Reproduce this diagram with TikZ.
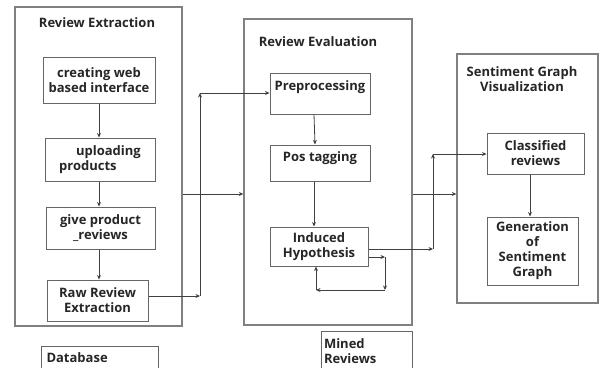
\documentclass[tikz,border=0pt]{standalone}
\usepackage{fontspec}
\setmainfont{Open Sans}
\usetikzlibrary{positioning}
\usetikzlibrary{arrows.meta}

\tikzset{
    frame/.style={draw=black!50, line width=1.3pt, fill=white},
    box/.style={draw=black!60, line width=1pt, fill=white, align=center, inner sep=1pt},
    arr/.style={-{Stealth[length=4.5pt,width=4pt]}, draw=black!75, line width=0.8pt},
    lbl/.style={font=\bfseries\fontsize{13}{15}\selectfont, text=black!85, align=center}
}

\begin{document}
\begin{tikzpicture}[x=1pt, y=-1pt, every node/.style={lbl}]
\useasboundingbox (0,0) rectangle (601,367);

% Frames
\node[frame, minimum width=167pt, minimum height=319pt] (extract) at (98.5,166.5) {};
\node[frame, minimum width=168pt, minimum height=306pt] (eval) at (328,172) {};
\node[frame, minimum width=141pt, minimum height=249pt] (visual) at (527.5,178.5) {};

% Frame titles
\node (extractT) at (97,23) {Review Extraction};
\node (evalT) at (318,42) {Review Evaluation};
\node (visualT) at (522,79) {Sentiment Graph\\Visualization};

% Review extraction steps
\node[box, minimum width=112pt, minimum height=46pt] (web) at (99,80) {creating web\\based interface};
\node[box, minimum width=110pt, minimum height=43pt, align=left] (upload) at (100,159.5) {\hspace{1.3em}uploading\\products};
\node[box, minimum width=109pt, minimum height=42pt] (give) at (100.5,228) {give product\\\_reviews};
\node[box, minimum width=101pt, minimum height=41pt] (raw) at (97.5,300.5) {Raw Review\\Extraction};

% Review evaluation steps
\node[box, minimum width=100pt, minimum height=41pt] (pre) at (320,93.5) {Preprocessing\\\mbox{}};
\node[box, minimum width=100pt, minimum height=36pt] (pos) at (320,163) {Pos tagging\\[-3pt]\mbox{}};
\node[box, minimum width=98pt, minimum height=39pt] (induced) at (319,246.5) {Induced\\Hypothesis};

% Visualization steps
\node[box, minimum width=97pt, minimum height=41pt] (classified) at (535.5,153.5) {Classified\\reviews};
\node[box, minimum width=91pt, minimum height=68pt] (gen) at (532.5,251) {Generation\\of\\Sentiment\\Graph};

% Stores
\node[box, minimum width=117pt, minimum height=22pt, text width=106pt, align=left, anchor=north] (db) at (99.5,346) {Database};
\node[box, minimum width=91pt, minimum height=40pt, text width=85pt, align=left, anchor=north] (mined) at (366.5,331) {Mined\\Reviews};

% Helper points
\coordinate (mid) at (0,194);
\coordinate (up1) at (200,296);
\coordinate (up2) at (200,93);
\coordinate (rt1) at (433,249);
\coordinate (rt2) at (433,154);
\coordinate (lp1) at (385,257);
\coordinate (lp2) at (385,290);
\coordinate (lp3) at (316,290);

% Connections inside frames
\draw[arr] (web.south) -- (web.south |- upload.north);
\draw[arr] (upload.south -| web.south) -- (web.south |- give.north);
\draw[arr] (give.south -| web.south) -- (web.south |- raw.north);
\draw[arr] (pre.south -| 314,0) -- (pos.north -| 315,0);
\draw[arr] (pos.south -| 314,0) -- (induced.north -| 314,0);
\draw[arr] (classified.south -| 530,0) -- (gen.north -| 530,0);

% Connections between frames
\draw[arr] (raw.east |- up1) -- (up1);
\draw[arr] (up1) -- (up2);
\draw[arr] (up2) -- (pre.west |- up2);
\draw[arr] (extract.east |- mid) -- (eval.west |- mid);
\draw[arr] (eval.east |- mid) -- (visual.west |- mid);
\draw[arr] (induced.east |- rt1) -- (rt1);
\draw[arr] (rt1) -- (rt2);
\draw[arr] (rt2) -- (classified.west |- rt2);

% Feedback loop
\draw[arr] (induced.east |- lp1) -- (lp1);
\draw[arr] (lp1) -- (lp2);
\draw[arr] (lp2) -- (lp3);
\draw[arr] (lp3) -- (induced.south -| lp3);

\end{tikzpicture}
\end{document}
